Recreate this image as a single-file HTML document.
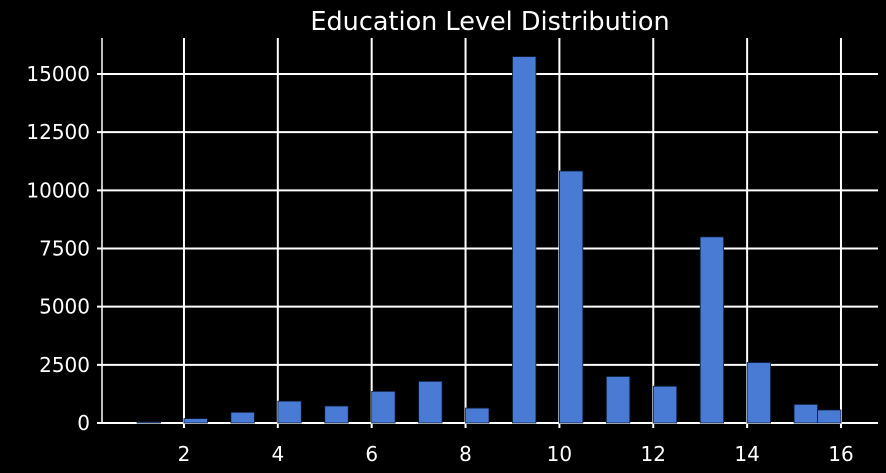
<!DOCTYPE html>
<html><head><meta charset="utf-8"><style>
body{margin:0;background:#000;overflow:hidden;}
svg{display:block;}
svg text{font-family:"DejaVu Sans","Liberation Sans",sans-serif;fill:#fff;}
</style></head><body>
<svg width="886" height="473" xmlns="http://www.w3.org/2000/svg">
<rect width="886" height="473" fill="#000"/>
<text x="490" y="30" font-size="25.5" text-anchor="middle">Education Level Distribution</text>
<g id="plot"></g>
</svg>
<script>
const binStarts=[1,2,3,4,5,6,7,8,9,10,11,12,13,14,15,15.5];
const counts=[51,190,460,940,730,1360,1790,640,15750,10830,2000,1580,8000,2600,800,560];
const xTicks=[2,4,6,8,10,12,14,16];
const yTicks=[0,2500,5000,7500,10000,12500,15000];
const binWidth=0.5;
const L=102,R=878,T=38,B=423;
const X=v=>90.1+v*46.93;
const Y=v=>423-v*349/15000;
const g=document.getElementById('plot');
const NS='http://www.w3.org/2000/svg';
function mk(t,a){const e=document.createElementNS(NS,t);for(const k in a)e.setAttribute(k,a[k]);g.appendChild(e);return e;}
let sp=mk('line',{x1:L,y1:T,x2:L,y2:B,stroke:'#fff','stroke-width':1.5});


yTicks.forEach(v=>{
 const l=mk('line',{x1:97,x2:R,y1:Y(v),y2:Y(v),stroke:'#fff','stroke-width':2});
 
 
 const t=mk('text',{x:90,y:Y(v)+7,'font-size':20,'text-anchor':'end'});t.textContent=v;
 
 
});
xTicks.forEach(v=>{
 const l=mk('line',{x1:X(v),x2:X(v),y1:T,y2:B+5,stroke:'#fff','stroke-width':2});
 
 
 const t=mk('text',{x:X(v),y:B+38,'font-size':20,'text-anchor':'middle'});t.textContent=v;
 
 
});
binStarts.forEach((s,i)=>{
 const x0=X(s),x1=X(s+binWidth);
 const r=mk('rect',{x:x0,y:Y(counts[i]),width:x1-x0,height:B-Y(counts[i]),fill:'#4a7bd4',stroke:'#0a1a33','stroke-width':0.8});
 
 
});
</script>
</body></html>
